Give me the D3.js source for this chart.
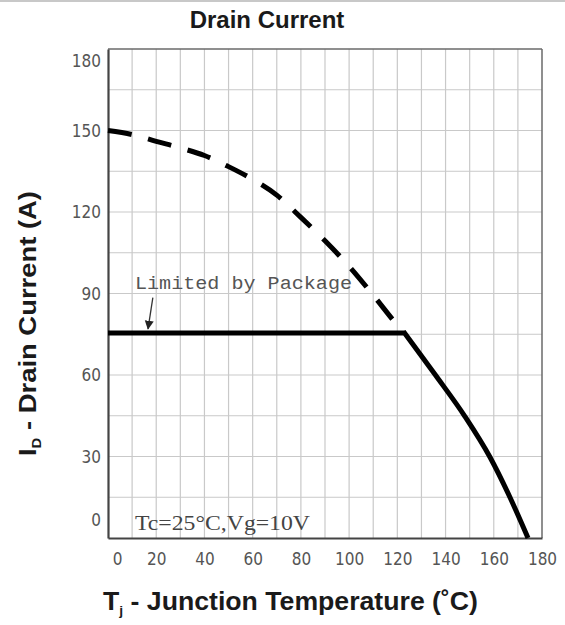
<!DOCTYPE html>
<html>
<head>
<meta charset="utf-8">
<script src="https://cdn.jsdelivr.net/npm/d3@7/dist/d3.min.js"></script>
<style>
  html, body { margin: 0; padding: 0; background: #fff; }
  svg { display: block; }
</style>
</head>
<body>
<svg id="chart" width="565" height="625"></svg>
<script>
// Axis ticks
const tempTicks = [0, 20, 40, 60, 80, 100, 120, 140, 160, 180];
const currentTicks = [0, 30, 60, 90, 120, 150, 180];

// Drain current vs junction temperature, silicon limit (dashed)
const siliconTemp = [0, 10, 20, 30, 40, 50, 60, 70, 80, 90, 100, 110, 120, 123];
const siliconCurrent = [150, 148.5, 146, 143.6, 140.8, 136.7, 132, 126.2, 118, 109.4, 100, 89.4, 78.4, 75.5];

// Package limit (flat part of the solid line)
const packageTemp = [0, 123];
const packageCurrent = [75.5, 75.5];

// Thermal derating above the package limit (curved part of the solid line)
const deratingTemp = [123, 135.8, 148, 158.4, 166.7, 174.2];
const deratingCurrent = [75.5, 60, 44.8, 29.8, 15, 0];

const svg = d3.select("#chart");

const x = d3.scaleLinear().domain([0, 180]).range([108, 542]);
const y = d3.scaleLinear().domain([0, 180]).range([538, 49]);

// top rule
svg.append("rect").attr("x", 0).attr("y", 0).attr("width", 565).attr("height", 2).attr("fill", "#c8c8c8");

// grid
const grid = svg.append("g").attr("stroke", "#c9c9c9").attr("stroke-width", 1.2);
grid.selectAll("line.v").data(d3.range(10, 180, 10)).join("line")
  .attr("class", "v")
  .attr("x1", d => x(d)).attr("x2", d => x(d))
  .attr("y1", y(180)).attr("y2", y(0));
grid.selectAll("line.h").data(d3.range(15, 180, 15)).join("line")
  .attr("class", "h")
  .attr("x1", x(0)).attr("x2", x(180))
  .attr("y1", d => y(d)).attr("y2", d => y(d));

// frame
svg.append("line").attr("x1", x(0)).attr("x2", x(180)).attr("y1", y(180)).attr("y2", y(180))
  .attr("stroke", "#6a6a6a").attr("stroke-width", 1.5);
svg.append("line").attr("x1", x(180)).attr("x2", x(180)).attr("y1", y(180)).attr("y2", y(0))
  .attr("stroke", "#6a6a6a").attr("stroke-width", 1.5);

// axes
const tickFont = "'DejaVu Sans Condensed', 'Liberation Sans Narrow', 'DejaVu Sans', sans-serif";
const xAxis = svg.append("g").attr("transform", `translate(0,${y(0)})`)
  .call(d3.axisBottom(x).tickValues(tempTicks).tickSize(0).tickPadding(0));
xAxis.select(".domain").attr("stroke", "#444").attr("stroke-width", 2.2);
xAxis.selectAll("text")
  .attr("y", 27).attr("dy", 0)
  .attr("dx", d => d === 0 ? 9 : 0)
  .attr("fill", "#555").attr("font-size", 17).attr("font-family", tickFont)
  .attr("font-stretch", "condensed");

const yAxis = svg.append("g").attr("transform", `translate(${x(0)},0)`)
  .call(d3.axisLeft(y).tickValues(currentTicks).tickSize(0).tickPadding(0));
yAxis.select(".domain").attr("stroke", "#444").attr("stroke-width", 2.2);
yAxis.selectAll("text")
  .attr("x", -7)
  .attr("dy", d => d === 180 ? "1.0em" : d === 0 ? "-0.75em" : "0.35em")
  .attr("fill", "#555").attr("font-size", 17).attr("font-family", tickFont)
  .attr("font-stretch", "condensed");

// curves
const siliconLine = d3.line().x(d => x(d[0])).y(d => y(d[1])).curve(d3.curveMonotoneX);
svg.append("path")
  .datum(d3.zip(siliconTemp, siliconCurrent))
  .attr("d", siliconLine)
  .attr("fill", "none").attr("stroke", "#000").attr("stroke-width", 5)
  .attr("stroke-dasharray", "24,17");

// flat package limit joined to the derating curve with a sharp knee
const flatLine = d3.line().x(d => x(d[0])).y(d => y(d[1]));
const curveLine = d3.line().x(d => x(d[0])).y(d => y(d[1])).curve(d3.curveMonotoneX);
const flatPath = flatLine(d3.zip(packageTemp, packageCurrent));
const curvePath = curveLine(d3.zip(deratingTemp, deratingCurrent)).replace(/^M/, "L");
svg.append("path")
  .attr("d", flatPath + curvePath)
  .attr("fill", "none").attr("stroke", "#000").attr("stroke-width", 5)
  .attr("stroke-linejoin", "round");

// annotations
svg.append("defs").append("marker")
  .attr("id", "arrowhead").attr("viewBox", "0 0 10 10")
  .attr("refX", 9).attr("refY", 5)
  .attr("markerWidth", 9).attr("markerHeight", 11).attr("markerUnits", "userSpaceOnUse")
  .attr("orient", "auto")
  .append("path").attr("d", "M0,0 L10,5 L0,10 Z").attr("fill", "#222");

svg.append("line")
  .attr("x1", x(18.6)).attr("y1", y(88.5))
  .attr("x2", x(16.6)).attr("y2", y(77))
  .attr("stroke", "#333").attr("stroke-width", 1.3)
  .attr("marker-end", "url(#arrowhead)");

svg.append("text")
  .attr("x", x(11.2)).attr("y", y(91.5))
  .attr("font-family", "'Liberation Mono', 'DejaVu Sans Mono', monospace")
  .attr("font-size", 19).attr("fill", "#555")
  .attr("textLength", 217).attr("lengthAdjust", "spacingAndGlyphs")
  .text("Limited by Package");

svg.append("text")
  .attr("x", x(11.2)).attr("y", y(3))
  .attr("font-family", "'Liberation Serif', 'DejaVu Serif', serif")
  .attr("font-size", 21).attr("fill", "#444")
  .attr("textLength", 175).attr("lengthAdjust", "spacingAndGlyphs")
  .text("Tc=25°C,Vg=10V");

// titles
const labelFont = "'Liberation Sans', Arial, sans-serif";
svg.append("text")
  .attr("x", 267).attr("y", 28).attr("text-anchor", "middle")
  .attr("font-family", labelFont).attr("font-weight", "bold").attr("font-size", 24)
  .attr("fill", "#1a1a1a")
  .text("Drain Current");

const xl = svg.append("text")
  .attr("x", 103).attr("y", 610)
  .attr("font-family", labelFont).attr("font-weight", "bold").attr("font-size", 25)
  .attr("fill", "#1a1a1a")
  .attr("textLength", 375).attr("lengthAdjust", "spacingAndGlyphs");
xl.append("tspan").text("T");
xl.append("tspan").attr("font-size", 13).attr("dy", 5).text("j");
xl.append("tspan").attr("dy", -5).text(" - Junction Temperature (˚C)");

const yl = svg.append("text")
  .attr("transform", "translate(36,456) rotate(-90)")
  .attr("font-family", labelFont).attr("font-weight", "bold").attr("font-size", 24)
  .attr("fill", "#1a1a1a")
  .attr("textLength", 265).attr("lengthAdjust", "spacingAndGlyphs");
yl.append("tspan").text("I");
yl.append("tspan").attr("font-size", 13).attr("dy", 5).text("D");
yl.append("tspan").attr("dy", -5).text(" - Drain Current (A)");
</script>
</body>
</html>
